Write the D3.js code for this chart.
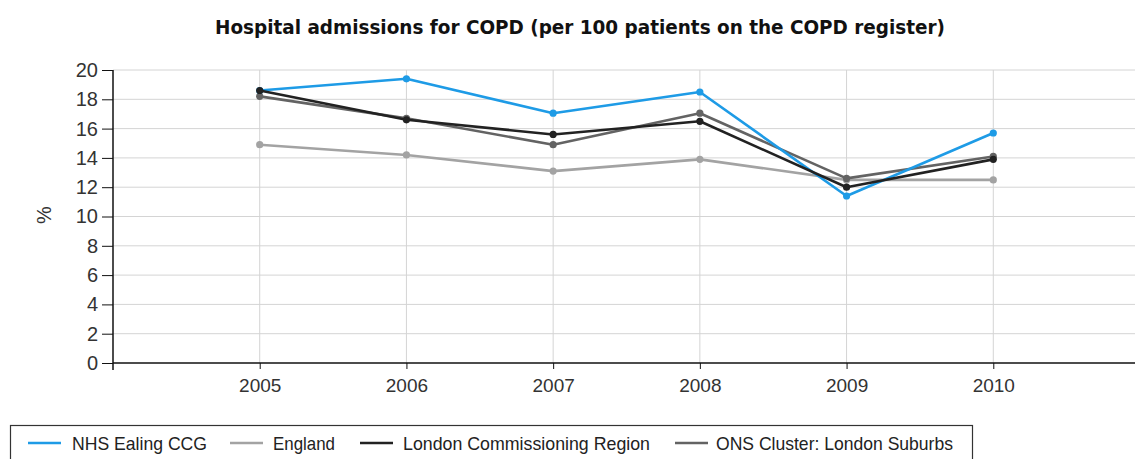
<!DOCTYPE html>
<html><head><meta charset="utf-8">
<script src="https://cdn.jsdelivr.net/npm/d3@7"></script>
<style>body{margin:0;background:#fff}svg{display:block}</style>
</head><body><svg id="c" width="1135" height="459"></svg>
<script>
const years = [2005, 2006, 2007, 2008, 2009, 2010];
const yTicks = [0, 2, 4, 6, 8, 10, 12, 14, 16, 18, 20];
const seriesNames = ["NHS Ealing CCG", "England", "London Commissioning Region", "ONS Cluster: London Suburbs"];
const seriesColors = ["#1e9be6", "#a3a3a3", "#222222", "#636363"];
const nhsEaling = [18.6, 19.4, 17.05, 18.5, 11.4, 15.7];
const england = [14.9, 14.2, 13.1, 13.9, 12.5, 12.5];
const londonRegion = [18.6, 16.6, 15.6, 16.5, 12.0, 13.9];
const onsCluster = [18.2, 16.7, 14.9, 17.05, 12.6, 14.1];
const seriesValues = [nhsEaling, england, londonRegion, onsCluster];
const drawOrder = [1, 3, 0, 2];
const title = "Hospital admissions for COPD (per 100 patients on the COPD register)";

const svg = d3.select("#c");
const font = "'Liberation Sans', Arial, sans-serif";
const x = d3.scaleLinear().domain([2004, 2011]).range([113, 1140]);
const y = d3.scaleLinear().domain([0, 20]).range([363, 70]);

svg.append("text").attr("x", 215).attr("y", 34)
  .attr("font-family", "'DejaVu Sans', sans-serif").attr("font-weight", "bold").attr("font-size", 19)
  .attr("textLength", 730).attr("lengthAdjust", "spacingAndGlyphs")
  .attr("fill", "#111").text(title);

// grid
svg.append("g").selectAll("line").data(yTicks.filter(d => d > 0)).join("line")
  .attr("x1", 113).attr("x2", 1135).attr("y1", d => y(d)).attr("y2", d => y(d))
  .attr("stroke", "#d4d4d4").attr("stroke-width", 1);
svg.append("g").selectAll("line").data(years).join("line")
  .attr("x1", d => x(d)).attr("x2", d => x(d)).attr("y1", y(20)).attr("y2", y(0))
  .attr("stroke", "#d4d4d4").attr("stroke-width", 1);

// axes
const yAxis = svg.append("g").attr("transform", "translate(113,0)")
  .call(d3.axisLeft(y).tickValues(yTicks).tickSize(11).tickPadding(4).tickFormat(d3.format("d")));
yAxis.select(".domain").attr("stroke", "#111").attr("stroke-width", 1.5).attr("d", `M0,${y(20)}V${y(0)+7}`);
yAxis.selectAll(".tick line").attr("stroke", "#111");
yAxis.selectAll(".tick text").attr("font-family", font).attr("font-size", 20).attr("fill", "#333");

const xAxis = svg.append("g").attr("transform", `translate(0,${y(0)})`)
  .call(d3.axisBottom(x).tickValues(years).tickSize(6).tickPadding(10).tickFormat(d3.format("d")));
xAxis.select(".domain").attr("stroke", "#111").attr("stroke-width", 1.5).attr("d", "M113,0H1135");
xAxis.selectAll(".tick line").attr("stroke", "#111");
xAxis.selectAll(".tick text").attr("font-family", font).attr("font-size", 19).attr("fill", "#333");

svg.append("text").attr("transform", `translate(51,215) rotate(-90)`).attr("text-anchor", "middle")
  .attr("font-family", font).attr("font-size", 20).attr("fill", "#333").text("%");

// lines
const line = d3.line().x((d, i) => x(years[i])).y(d => y(d));
drawOrder.forEach(si => {
  const g = svg.append("g");
  g.append("path").datum(seriesValues[si]).attr("d", line).attr("fill", "none")
    .attr("stroke", seriesColors[si]).attr("stroke-width", 2.6).attr("stroke-linejoin", "round");
  g.selectAll("circle").data(seriesValues[si]).join("circle")
    .attr("cx", (d, i) => x(years[i])).attr("cy", d => y(d)).attr("r", 3.6)
    .attr("fill", seriesColors[si]);
});

// legend
svg.append("rect").attr("x", 10.5).attr("y", 425.5).attr("width", 962).attr("height", 50)
  .attr("fill", "#fff").attr("stroke", "#333").attr("stroke-width", 1.2);
const legX = [28, 230, 360, 675];
const legTextX = [72, 273, 403, 716];
const legTextW = [135, 62, 247, 237];
seriesNames.forEach((n, i) => {
  svg.append("line").attr("x1", legX[i]).attr("x2", legX[i] + 33).attr("y1", 443).attr("y2", 443)
    .attr("stroke", seriesColors[i]).attr("stroke-width", 2.6);
  svg.append("text").attr("x", legTextX[i]).attr("y", 450)
    .attr("font-family", font).attr("font-size", 19).attr("fill", "#222")
    .attr("textLength", legTextW[i]).attr("lengthAdjust", "spacingAndGlyphs").text(n);
});
</script></body></html>
